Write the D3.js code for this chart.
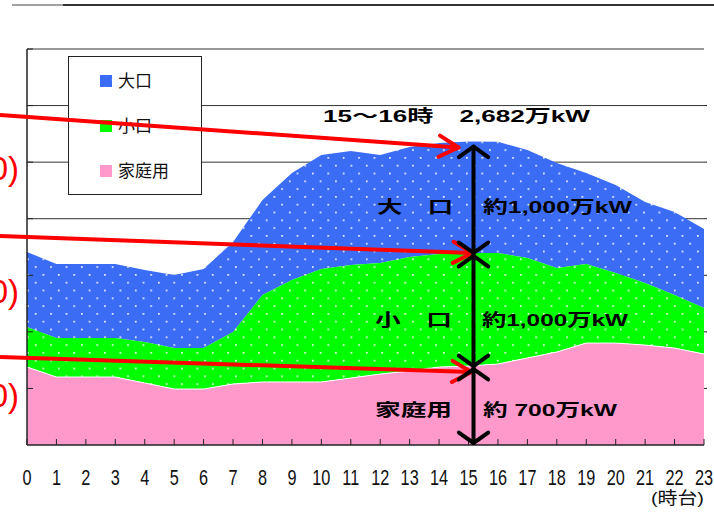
<!DOCTYPE html>
<html>
<head>
<meta charset="utf-8">
<script src="https://cdn.jsdelivr.net/npm/d3@7"></script>
<style>
  body { margin: 0; background: #fff; }
  svg { display: block; }
  .jp { font-family: "Liberation Sans", "Noto Sans CJK JP", sans-serif; }
</style>
</head>
<body>
<svg width="714" height="514"></svg>
<script>
// hours of the day (時台)
var hours = [0, 1, 2, 3, 4, 5, 6, 7, 8, 9, 10, 11, 12, 13, 14, 15, 16, 17, 18, 19, 20, 21, 22, 23];

// demand per category, 万kW
var household = [689, 601, 601, 601, 548, 495, 495, 539, 557, 557, 557, 592, 627, 654, 689, 698, 716, 769, 822, 901, 901, 883, 857, 804];
var smallLot  = [353, 344, 344, 344, 362, 362, 362, 459, 768, 901, 998, 998, 981, 1007, 999, 999, 981, 884, 742, 699, 619, 549, 468, 407];
var largeLot  = [664, 655, 655, 655, 637, 645, 699, 796, 840, 946, 1008, 1008, 955, 973, 982, 985, 983, 954, 928, 804, 778, 716, 734, 698];

var yTicks = [0, 500, 1000, 1500, 2000, 2500, 3000, 3500];
var seriesKeys = ["household", "small", "large"];
var legendLabels = ["大口", "小口", "家庭用"];

var svg = d3.select("svg");

var x = d3.scaleLinear().domain([0, 23]).range([27, 704]);
var y = d3.scaleLinear().domain([0, 3500]).range([445, 49]);

var rows = hours.map(function (h, i) {
    return { hour: h, household: household[i], small: smallLot[i], large: largeLot[i] };
});
var stacked = d3.stack().keys(seriesKeys)(rows);

// dotted patterns
var defs = svg.append("defs");
function dotPattern(id, color) {
    var p = defs.append("pattern")
        .attr("id", id)
        .attr("patternUnits", "userSpaceOnUse")
        .attr("width", 15.4).attr("height", 15.6)
        .attr("x", 4).attr("y", 1);
    p.append("rect").attr("width", 15.4).attr("height", 15.6).attr("fill", color);
    p.append("rect").attr("x", 0).attr("y", 0).attr("width", 1.7).attr("height", 1.7).attr("fill", "#fff").attr("opacity", 0.9);
    p.append("rect").attr("x", 7.7).attr("y", 7.8).attr("width", 1.7).attr("height", 1.7).attr("fill", "#fff").attr("opacity", 0.9);
}
dotPattern("dotsBlue", "#3b6cf6");
dotPattern("dotsGreen", "#00ff00");

var fills = { household: "#ff99cc", small: "url(#dotsGreen)", large: "url(#dotsBlue)" };

// top frame line
svg.append("line").attr("x1", 12).attr("x2", 63).attr("y1", 5).attr("y2", 5)
    .attr("stroke", "#444").attr("stroke-width", 1.2);
svg.append("line").attr("x1", 63).attr("x2", 714).attr("y1", 5).attr("y2", 5)
    .attr("stroke", "#333").attr("stroke-width", 2);

// gridlines
svg.append("g")
    .selectAll("line")
    .data(yTicks.slice(1))
    .enter()
    .append("line")
    .attr("x1", x(0)).attr("x2", x(23))
    .attr("y1", function (d) { return y(d); })
    .attr("y2", function (d) { return y(d); })
    .attr("stroke", "#333")
    .attr("stroke-width", 1);

// the areas
var area = d3.area()
    .x(function (d) { return x(d.data.hour); })
    .y0(function (d) { return y(d[0]); })
    .y1(function (d) { return y(d[1]); });

svg.append("g")
    .selectAll("path")
    .data(stacked.slice().reverse())
    .enter()
    .append("path")
    .attr("d", area)
    .attr("fill", function (d) { return fills[d.key]; });

// thin white edge on top of the household layer
svg.append("path")
    .datum(stacked[0])
    .attr("d", d3.line()
        .x(function (d) { return x(d.data.hour); })
        .y(function (d) { return y(d[1]); }))
    .attr("fill", "none")
    .attr("stroke", "#fff")
    .attr("stroke-width", 1);

// axes
svg.append("line").attr("x1", x(0)).attr("x2", x(0)).attr("y1", y(3500)).attr("y2", y(0))
    .attr("stroke", "#222").attr("stroke-width", 1.5);
svg.append("line").attr("x1", x(0)).attr("x2", x(23)).attr("y1", y(0)).attr("y2", y(0))
    .attr("stroke", "#222").attr("stroke-width", 1.5);

svg.append("g")
    .selectAll("line")
    .data(yTicks.slice(1))
    .enter()
    .append("line")
    .attr("x1", x(0)).attr("x2", x(0) + 6)
    .attr("y1", function (d) { return y(d); })
    .attr("y2", function (d) { return y(d); })
    .attr("stroke", "#222");

svg.append("g")
    .selectAll("line")
    .data(yTicks.slice(1, 7))
    .enter()
    .append("line")
    .attr("x1", x(23)).attr("x2", x(23) + 3)
    .attr("y1", function (d) { return y(d); })
    .attr("y2", function (d) { return y(d); })
    .attr("stroke", "#222");

svg.append("g")
    .selectAll("line")
    .data(hours)
    .enter()
    .append("line")
    .attr("x1", function (d) { return x(d); })
    .attr("x2", function (d) { return x(d); })
    .attr("y1", y(0)).attr("y2", y(0) - 6)
    .attr("stroke", "#222");

// hour labels
svg.append("g")
    .selectAll("text")
    .data(hours)
    .enter()
    .append("text")
    .attr("transform", function (d) { return "translate(" + x(d) + ",485) scale(0.74,1)"; })
    .attr("text-anchor", "middle")
    .style("font-family", "Liberation Sans, sans-serif")
    .style("font-size", "22px")
    .attr("fill", "#111")
    .text(function (d) { return d; });

svg.append("text")
    .attr("class", "jp")
    .attr("x", 651).attr("y", 504)
    .attr("textLength", 53).attr("lengthAdjust", "spacingAndGlyphs")
    .style("font-size", "17px")
    .attr("fill", "#111")
    .text("(時台)");

// legend
var legend = svg.append("g");
legend.append("rect")
    .attr("x", 68.5).attr("y", 56.5).attr("width", 133).attr("height", 138)
    .attr("fill", "#fff").attr("stroke", "#222");
var legendFill = ["url(#dotsBlue)", "#00ff00", "#ff99cc"];
var legendY = [81, 126, 171];
legendLabels.forEach(function (lab, i) {
    legend.append("rect")
        .attr("x", 100).attr("y", legendY[i] - 6).attr("width", 12).attr("height", 12)
        .attr("fill", legendFill[i]);
    legend.append("text")
        .attr("x", 118).attr("y", legendY[i] + 6)
        .style("font-family", "Noto Sans CJK JP, sans-serif")
        .style("font-size", "17px")
        .attr("fill", "#111")
        .text(lab);
});

// red arrows from the left
var peak = stacked[2][15][1];
var midTop = stacked[1][15][1];
var lowTop = stacked[0][15][1];
var redArrows = [
    { from: [0, 115], to: [x(15) - 10, y(peak) + 6] },
    { from: [0, 236], to: [x(15) + 4, y(midTop)] },
    { from: [0, 357], to: [x(15) + 3, y(lowTop) + 6] }
];
function arrowHead(g, tip, angle, len, spread, color, w) {
    [angle + spread, angle - spread].forEach(function (a) {
        g.append("line")
            .attr("x1", tip[0]).attr("y1", tip[1])
            .attr("x2", tip[0] - len * Math.cos(a))
            .attr("y2", tip[1] - len * Math.sin(a))
            .attr("stroke", color).attr("stroke-width", w)
            .attr("stroke-linecap", "round");
    });
}
var red = svg.append("g");
redArrows.forEach(function (a) {
    red.append("line")
        .attr("x1", a.from[0]).attr("y1", a.from[1])
        .attr("x2", a.to[0]).attr("y2", a.to[1])
        .attr("stroke", "#ff0000").attr("stroke-width", 4);
    var ang = Math.atan2(a.to[1] - a.from[1], a.to[0] - a.from[0]);
    arrowHead(red, a.to, ang, 22, 0.5, "#ff0000", 4);
});

// cut off red labels at the left edge
[168, 291, 395].forEach(function (cy) {
    svg.append("text")
        .attr("x", 19).attr("y", cy + 12)
        .attr("text-anchor", "end")
        .style("font-family", "Liberation Sans, sans-serif")
        .style("font-size", "33px")
        .attr("fill", "#ff0000")
        .text("00)");
});

// black double arrow at 15時
var ax = x(15) + 5;
var black = svg.append("g");
black.append("line").attr("x1", ax).attr("x2", ax).attr("y1", y(peak) + 5).attr("y2", y(0) - 1)
    .attr("stroke", "#000").attr("stroke-width", 4);
arrowHead(black, [ax, y(peak) + 5], -Math.PI / 2, 18, 0.95, "#000", 4);
arrowHead(black, [ax, y(midTop)], Math.PI / 2, 18, 0.95, "#000", 4);
arrowHead(black, [ax, y(midTop) + 3], -Math.PI / 2, 18, 0.95, "#000", 4);
arrowHead(black, [ax, y(lowTop)], Math.PI / 2, 18, 0.95, "#000", 4);
arrowHead(black, [ax, y(lowTop) + 3], -Math.PI / 2, 18, 0.95, "#000", 4);
arrowHead(black, [ax, y(0) - 2], Math.PI / 2, 18, 0.95, "#000", 4);

// bold annotations
var notes = [
    { t: "15～16時　2,682万kW", x: 323, y: 122, w: 267 },
    { t: "大　口", x: 377, y: 213, w: 76 },
    { t: "約1,000万kW", x: 483, y: 213, w: 149 },
    { t: "小　口", x: 375, y: 326, w: 77 },
    { t: "約1,000万kW", x: 482, y: 326, w: 146 },
    { t: "家庭用", x: 375, y: 416, w: 77 },
    { t: "約 700万kW", x: 483, y: 416, w: 134 }
];
svg.append("g")
    .selectAll("text")
    .data(notes)
    .enter()
    .append("text")
    .attr("class", "jp")
    .attr("x", function (d) { return d.x; })
    .attr("y", function (d) { return d.y; })
    .attr("textLength", function (d) { return d.w; })
    .attr("lengthAdjust", "spacingAndGlyphs")
    .style("font-size", "17px")
    .style("font-weight", "bold")
    .attr("fill", "#000")
    .text(function (d) { return d.t; });
</script>
</body>
</html>
